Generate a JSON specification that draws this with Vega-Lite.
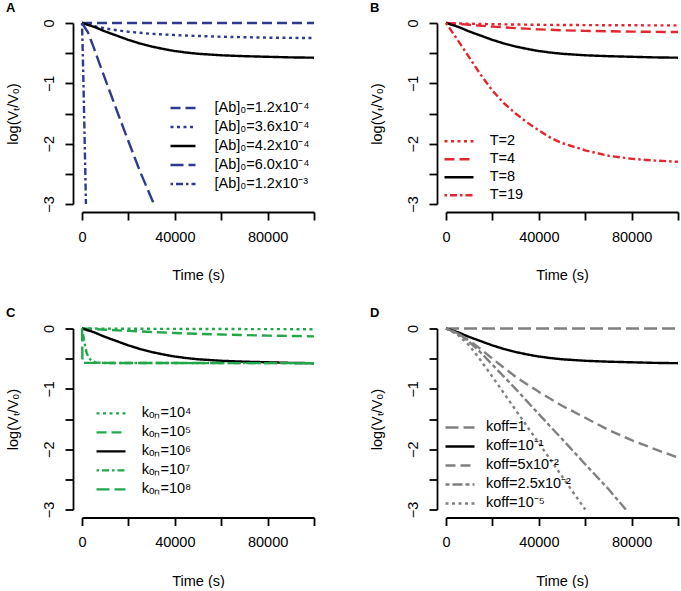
{
  "$schema": "https://vega.github.io/schema/vega-lite/v6.json",
  "background": "white",
  "padding": {"left": 5, "top": 1, "right": 0, "bottom": 0},
  "columns": 2,
  "spacing": {"row": 124.5, "column": 132},
  "bounds": "flush",
  "resolve": {"scale": {"color": "independent", "strokeDash": "independent", "strokeWidth": "independent"}},
  "config": {
    "view": {"stroke": null},
    "font": "Liberation Sans",
    "axis": {"domainColor": "black", "domainWidth": 1.8, "tickColor": "black", "tickWidth": 1.8, "tickSize": 8, "labelFont": "Liberation Sans", "labelFontSize": 14.5, "labelColor": "black", "titleFont": "Liberation Sans", "titleFontSize": 14.5, "titleFontWeight": "normal", "titleColor": "black", "grid": false, "labelFlush": false, "labelOverlap": false},
    "axisX": {"offset": 8, "labelPadding": 10, "titlePadding": 25},
    "axisY": {"offset": 9, "labelAngle": 270, "labelAlign": "center", "labelBaseline": "bottom", "labelPadding": 9, "titlePadding": 21},
    "legend": {"orient": "none", "symbolType": "stroke", "symbolStrokeWidth": 2.4, "labelFont": "Liberation Sans", "labelFontSize": 14.5, "labelColor": "black", "padding": 0, "labelLimit": 400, "rowPadding": 0},
    "title": {"anchor": "start", "frame": "group", "fontSize": 13, "fontWeight": "bold", "font": "Liberation Sans", "color": "black", "offset": 4, "dx": -76}
  },
  "concat": [
    {
      "width": 232, "height": 181,
      "title": {"text": "A"},
      "data": {"values": [
        {"t": 0, "v": 0, "ab": "[Ab]₀=1.2x10⁻⁴"}, {"t": 20000, "v": 0, "ab": "[Ab]₀=1.2x10⁻⁴"}, {"t": 40000, "v": 0, "ab": "[Ab]₀=1.2x10⁻⁴"}, {"t": 60000, "v": 0, "ab": "[Ab]₀=1.2x10⁻⁴"}, {"t": 80000, "v": 0, "ab": "[Ab]₀=1.2x10⁻⁴"}, {"t": 100000, "v": 0, "ab": "[Ab]₀=1.2x10⁻⁴"},
        {"t": 0, "v": 0, "ab": "[Ab]₀=3.6x10⁻⁴"}, {"t": 5000, "v": -0.05, "ab": "[Ab]₀=3.6x10⁻⁴"}, {"t": 10000, "v": -0.09, "ab": "[Ab]₀=3.6x10⁻⁴"}, {"t": 15000, "v": -0.12, "ab": "[Ab]₀=3.6x10⁻⁴"}, {"t": 20000, "v": -0.145, "ab": "[Ab]₀=3.6x10⁻⁴"}, {"t": 30000, "v": -0.18, "ab": "[Ab]₀=3.6x10⁻⁴"}, {"t": 40000, "v": -0.2, "ab": "[Ab]₀=3.6x10⁻⁴"}, {"t": 50000, "v": -0.215, "ab": "[Ab]₀=3.6x10⁻⁴"}, {"t": 60000, "v": -0.228, "ab": "[Ab]₀=3.6x10⁻⁴"}, {"t": 80000, "v": -0.243, "ab": "[Ab]₀=3.6x10⁻⁴"}, {"t": 100000, "v": -0.25, "ab": "[Ab]₀=3.6x10⁻⁴"},
        {"t": 0, "v": 0, "ab": "[Ab]₀=4.2x10⁻⁴"}, {"t": 5000, "v": -0.06, "ab": "[Ab]₀=4.2x10⁻⁴"}, {"t": 10000, "v": -0.14, "ab": "[Ab]₀=4.2x10⁻⁴"}, {"t": 15000, "v": -0.21, "ab": "[Ab]₀=4.2x10⁻⁴"}, {"t": 20000, "v": -0.28, "ab": "[Ab]₀=4.2x10⁻⁴"}, {"t": 25000, "v": -0.34, "ab": "[Ab]₀=4.2x10⁻⁴"}, {"t": 30000, "v": -0.39, "ab": "[Ab]₀=4.2x10⁻⁴"}, {"t": 35000, "v": -0.43, "ab": "[Ab]₀=4.2x10⁻⁴"}, {"t": 40000, "v": -0.465, "ab": "[Ab]₀=4.2x10⁻⁴"}, {"t": 45000, "v": -0.49, "ab": "[Ab]₀=4.2x10⁻⁴"}, {"t": 50000, "v": -0.51, "ab": "[Ab]₀=4.2x10⁻⁴"}, {"t": 60000, "v": -0.535, "ab": "[Ab]₀=4.2x10⁻⁴"}, {"t": 70000, "v": -0.55, "ab": "[Ab]₀=4.2x10⁻⁴"}, {"t": 80000, "v": -0.56, "ab": "[Ab]₀=4.2x10⁻⁴"}, {"t": 90000, "v": -0.57, "ab": "[Ab]₀=4.2x10⁻⁴"}, {"t": 100000, "v": -0.575, "ab": "[Ab]₀=4.2x10⁻⁴"},
        {"t": 0, "v": 0, "ab": "[Ab]₀=6.0x10⁻⁴"}, {"t": 2500, "v": -0.15, "ab": "[Ab]₀=6.0x10⁻⁴"}, {"t": 5000, "v": -0.4, "ab": "[Ab]₀=6.0x10⁻⁴"}, {"t": 7500, "v": -0.67, "ab": "[Ab]₀=6.0x10⁻⁴"}, {"t": 10000, "v": -0.93, "ab": "[Ab]₀=6.0x10⁻⁴"}, {"t": 15000, "v": -1.45, "ab": "[Ab]₀=6.0x10⁻⁴"}, {"t": 20000, "v": -1.96, "ab": "[Ab]₀=6.0x10⁻⁴"}, {"t": 25000, "v": -2.46, "ab": "[Ab]₀=6.0x10⁻⁴"}, {"t": 31000, "v": -3.0, "ab": "[Ab]₀=6.0x10⁻⁴"},
        {"t": 0, "v": 0, "ab": "[Ab]₀=1.2x10⁻³"}, {"t": 400, "v": -0.6, "ab": "[Ab]₀=1.2x10⁻³"}, {"t": 800, "v": -1.3, "ab": "[Ab]₀=1.2x10⁻³"}, {"t": 1200, "v": -2.05, "ab": "[Ab]₀=1.2x10⁻³"}, {"t": 1700, "v": -3.0, "ab": "[Ab]₀=1.2x10⁻³"}
      ]},
      "mark": {"type": "line", "strokeWidth": 2.4, "strokeJoin": "round"},
      "encoding": {
        "x": {"field": "t", "type": "quantitative", "title": "Time (s)", "scale": {"domain": [0, 100000], "nice": false, "zero": false}, "axis": {"values": [0, 20000, 40000, 60000, 80000, 100000], "labelExpr": "datum.value % 40000 === 0 ? format(datum.value, 'd') : ''"}},
        "y": {"field": "v", "type": "quantitative", "title": "log(Vₜ/V₀)", "scale": {"domain": [-3, 0], "nice": false, "zero": false}, "axis": {"values": [0, -0.5, -1, -1.5, -2, -2.5, -3], "labelExpr": "datum.value % 1 === 0 ? format(datum.value, 'd') : ''"}},
        "color": {"field": "ab", "type": "nominal", "scale": {"domain": ["[Ab]₀=1.2x10⁻⁴", "[Ab]₀=3.6x10⁻⁴", "[Ab]₀=4.2x10⁻⁴", "[Ab]₀=6.0x10⁻⁴", "[Ab]₀=1.2x10⁻³"], "range": ["#2E3A8F", "#2E3A8F", "#000000", "#2E3A8F", "#2E3A8F"]}, "legend": {"title": null, "legendX": 87, "legendY": 76, "symbolSize": 625, "labelOffset": 17.5, "clipHeight": 18.1}},
        "strokeDash": {"field": "ab", "type": "nominal", "scale": {"domain": ["[Ab]₀=1.2x10⁻⁴", "[Ab]₀=3.6x10⁻⁴", "[Ab]₀=4.2x10⁻⁴", "[Ab]₀=6.0x10⁻⁴", "[Ab]₀=1.2x10⁻³"], "range": [[10, 5], [3, 3.5], [1, 0], [13, 5], [2.5, 3, 7, 3]]}, "legend": {"title": null, "legendX": 87, "legendY": 76, "symbolSize": 625, "labelOffset": 17.5, "clipHeight": 18.1}}
      }
    },
    {
      "width": 232, "height": 181,
      "title": {"text": "B"},
      "data": {"values": [
        {"t": 0, "v": 0, "T": "T=2"}, {"t": 10000, "v": -0.012, "T": "T=2"}, {"t": 20000, "v": -0.02, "T": "T=2"}, {"t": 40000, "v": -0.03, "T": "T=2"}, {"t": 60000, "v": -0.035, "T": "T=2"}, {"t": 80000, "v": -0.038, "T": "T=2"}, {"t": 100000, "v": -0.04, "T": "T=2"},
        {"t": 0, "v": 0, "T": "T=4"}, {"t": 10000, "v": -0.03, "T": "T=4"}, {"t": 20000, "v": -0.06, "T": "T=4"}, {"t": 30000, "v": -0.085, "T": "T=4"}, {"t": 40000, "v": -0.105, "T": "T=4"}, {"t": 50000, "v": -0.12, "T": "T=4"}, {"t": 60000, "v": -0.13, "T": "T=4"}, {"t": 80000, "v": -0.143, "T": "T=4"}, {"t": 100000, "v": -0.15, "T": "T=4"},
        {"t": 0, "v": 0, "T": "T=8"}, {"t": 5000, "v": -0.06, "T": "T=8"}, {"t": 10000, "v": -0.14, "T": "T=8"}, {"t": 15000, "v": -0.21, "T": "T=8"}, {"t": 20000, "v": -0.28, "T": "T=8"}, {"t": 25000, "v": -0.34, "T": "T=8"}, {"t": 30000, "v": -0.39, "T": "T=8"}, {"t": 35000, "v": -0.43, "T": "T=8"}, {"t": 40000, "v": -0.465, "T": "T=8"}, {"t": 45000, "v": -0.49, "T": "T=8"}, {"t": 50000, "v": -0.51, "T": "T=8"}, {"t": 60000, "v": -0.535, "T": "T=8"}, {"t": 70000, "v": -0.55, "T": "T=8"}, {"t": 80000, "v": -0.56, "T": "T=8"}, {"t": 90000, "v": -0.57, "T": "T=8"}, {"t": 100000, "v": -0.575, "T": "T=8"},
        {"t": 0, "v": 0, "T": "T=19"}, {"t": 5000, "v": -0.28, "T": "T=19"}, {"t": 10000, "v": -0.57, "T": "T=19"}, {"t": 15000, "v": -0.86, "T": "T=19"}, {"t": 20000, "v": -1.12, "T": "T=19"}, {"t": 25000, "v": -1.33, "T": "T=19"}, {"t": 30000, "v": -1.5, "T": "T=19"}, {"t": 35000, "v": -1.65, "T": "T=19"}, {"t": 40000, "v": -1.78, "T": "T=19"}, {"t": 45000, "v": -1.9, "T": "T=19"}, {"t": 50000, "v": -1.99, "T": "T=19"}, {"t": 60000, "v": -2.11, "T": "T=19"}, {"t": 70000, "v": -2.2, "T": "T=19"}, {"t": 80000, "v": -2.25, "T": "T=19"}, {"t": 90000, "v": -2.28, "T": "T=19"}, {"t": 100000, "v": -2.3, "T": "T=19"}
      ]},
      "mark": {"type": "line", "strokeWidth": 2.4, "strokeJoin": "round"},
      "encoding": {
        "x": {"field": "t", "type": "quantitative", "title": "Time (s)", "scale": {"domain": [0, 100000], "nice": false, "zero": false}, "axis": {"values": [0, 20000, 40000, 60000, 80000, 100000], "labelExpr": "datum.value % 40000 === 0 ? format(datum.value, 'd') : ''"}},
        "y": {"field": "v", "type": "quantitative", "title": "log(Vₜ/V₀)", "scale": {"domain": [-3, 0], "nice": false, "zero": false}, "axis": {"values": [0, -0.5, -1, -1.5, -2, -2.5, -3], "labelExpr": "datum.value % 1 === 0 ? format(datum.value, 'd') : ''"}},
        "color": {"field": "T", "type": "nominal", "scale": {"domain": ["T=2", "T=4", "T=8", "T=19"], "range": ["#E5262E", "#E5262E", "#000000", "#E5262E"]}, "legend": {"title": null, "legendX": -3, "legendY": 109.3, "symbolSize": 841, "labelOffset": 14.7, "clipHeight": 17.8}},
        "strokeDash": {"field": "T", "type": "nominal", "scale": {"domain": ["T=2", "T=4", "T=8", "T=19"], "range": [[3, 3.5], [10, 5], [1, 0], [2.5, 3, 7, 3]]}, "legend": {"title": null, "legendX": -3, "legendY": 109.3, "symbolSize": 841, "labelOffset": 14.7, "clipHeight": 17.8}}
      }
    },
    {
      "width": 232, "height": 181,
      "title": {"text": "C"},
      "data": {"values": [
        {"t": 0, "v": 0, "kon": "kₒₙ=10⁴"}, {"t": 20000, "v": -0.004, "kon": "kₒₙ=10⁴"}, {"t": 50000, "v": -0.008, "kon": "kₒₙ=10⁴"}, {"t": 100000, "v": -0.012, "kon": "kₒₙ=10⁴"},
        {"t": 0, "v": 0, "kon": "kₒₙ=10⁵"}, {"t": 10000, "v": -0.02, "kon": "kₒₙ=10⁵"}, {"t": 20000, "v": -0.04, "kon": "kₒₙ=10⁵"}, {"t": 30000, "v": -0.058, "kon": "kₒₙ=10⁵"}, {"t": 40000, "v": -0.075, "kon": "kₒₙ=10⁵"}, {"t": 50000, "v": -0.088, "kon": "kₒₙ=10⁵"}, {"t": 60000, "v": -0.1, "kon": "kₒₙ=10⁵"}, {"t": 80000, "v": -0.118, "kon": "kₒₙ=10⁵"}, {"t": 100000, "v": -0.13, "kon": "kₒₙ=10⁵"},
        {"t": 0, "v": 0, "kon": "kₒₙ=10⁶"}, {"t": 5000, "v": -0.06, "kon": "kₒₙ=10⁶"}, {"t": 10000, "v": -0.14, "kon": "kₒₙ=10⁶"}, {"t": 15000, "v": -0.21, "kon": "kₒₙ=10⁶"}, {"t": 20000, "v": -0.28, "kon": "kₒₙ=10⁶"}, {"t": 25000, "v": -0.34, "kon": "kₒₙ=10⁶"}, {"t": 30000, "v": -0.39, "kon": "kₒₙ=10⁶"}, {"t": 35000, "v": -0.43, "kon": "kₒₙ=10⁶"}, {"t": 40000, "v": -0.465, "kon": "kₒₙ=10⁶"}, {"t": 45000, "v": -0.49, "kon": "kₒₙ=10⁶"}, {"t": 50000, "v": -0.51, "kon": "kₒₙ=10⁶"}, {"t": 60000, "v": -0.535, "kon": "kₒₙ=10⁶"}, {"t": 70000, "v": -0.55, "kon": "kₒₙ=10⁶"}, {"t": 80000, "v": -0.56, "kon": "kₒₙ=10⁶"}, {"t": 90000, "v": -0.57, "kon": "kₒₙ=10⁶"}, {"t": 100000, "v": -0.575, "kon": "kₒₙ=10⁶"},
        {"t": 0, "v": 0, "kon": "kₒₙ=10⁷"}, {"t": 700, "v": -0.15, "kon": "kₒₙ=10⁷"}, {"t": 1400, "v": -0.3, "kon": "kₒₙ=10⁷"}, {"t": 2000, "v": -0.4, "kon": "kₒₙ=10⁷"}, {"t": 2600, "v": -0.46, "kon": "kₒₙ=10⁷"}, {"t": 3500, "v": -0.51, "kon": "kₒₙ=10⁷"}, {"t": 4500, "v": -0.54, "kon": "kₒₙ=10⁷"}, {"t": 6000, "v": -0.565, "kon": "kₒₙ=10⁷"}, {"t": 10000, "v": -0.572, "kon": "kₒₙ=10⁷"}, {"t": 100000, "v": -0.575, "kon": "kₒₙ=10⁷"},
        {"t": 0, "v": 0, "kon": "kₒₙ=10⁸"}, {"t": 200, "v": -0.57, "kon": "kₒₙ=10⁸"}, {"t": 100000, "v": -0.575, "kon": "kₒₙ=10⁸"}
      ]},
      "mark": {"type": "line", "strokeJoin": "round"},
      "encoding": {
        "x": {"field": "t", "type": "quantitative", "title": "Time (s)", "scale": {"domain": [0, 100000], "nice": false, "zero": false}, "axis": {"values": [0, 20000, 40000, 60000, 80000, 100000], "labelExpr": "datum.value % 40000 === 0 ? format(datum.value, 'd') : ''"}},
        "y": {"field": "v", "type": "quantitative", "title": "log(Vₜ/V₀)", "scale": {"domain": [-3, 0], "nice": false, "zero": false}, "axis": {"values": [0, -0.5, -1, -1.5, -2, -2.5, -3], "labelExpr": "datum.value % 1 === 0 ? format(datum.value, 'd') : ''"}},
        "color": {"field": "kon", "type": "nominal", "scale": {"domain": ["kₒₙ=10⁴", "kₒₙ=10⁵", "kₒₙ=10⁶", "kₒₙ=10⁷", "kₒₙ=10⁸"], "range": ["#22A84A", "#22A84A", "#000000", "#22A84A", "#22A84A"]}, "legend": {"title": null, "legendX": 13, "legendY": 75.8, "symbolSize": 841, "labelOffset": 14.7, "clipHeight": 18.1}},
        "strokeDash": {"field": "kon", "type": "nominal", "scale": {"domain": ["kₒₙ=10⁴", "kₒₙ=10⁵", "kₒₙ=10⁶", "kₒₙ=10⁷", "kₒₙ=10⁸"], "range": [[3, 3.5], [10, 5], [1, 0], [2.5, 3, 7, 3], [13, 5]]}, "legend": {"title": null, "legendX": 13, "legendY": 75.8, "symbolSize": 841, "labelOffset": 14.7, "clipHeight": 18.1}},
        "strokeWidth": {"field": "kon", "type": "nominal", "scale": {"domain": ["kₒₙ=10⁴", "kₒₙ=10⁵", "kₒₙ=10⁶", "kₒₙ=10⁷", "kₒₙ=10⁸"], "range": [2.4, 2.4, 1.7, 2.4, 2.4]}, "legend": {"title": null, "legendX": 13, "legendY": 75.8, "symbolSize": 841, "labelOffset": 14.7, "clipHeight": 18.1}}
      }
    },
    {
      "width": 232, "height": 181,
      "title": {"text": "D"},
      "data": {"values": [
        {"t": 0, "v": 0, "koff": "koff=1"}, {"t": 50000, "v": 0, "koff": "koff=1"}, {"t": 100000, "v": 0, "koff": "koff=1"},
        {"t": 0, "v": 0, "koff": "koff=10⁻¹"}, {"t": 5000, "v": -0.06, "koff": "koff=10⁻¹"}, {"t": 10000, "v": -0.14, "koff": "koff=10⁻¹"}, {"t": 15000, "v": -0.21, "koff": "koff=10⁻¹"}, {"t": 20000, "v": -0.28, "koff": "koff=10⁻¹"}, {"t": 25000, "v": -0.34, "koff": "koff=10⁻¹"}, {"t": 30000, "v": -0.39, "koff": "koff=10⁻¹"}, {"t": 35000, "v": -0.43, "koff": "koff=10⁻¹"}, {"t": 40000, "v": -0.465, "koff": "koff=10⁻¹"}, {"t": 45000, "v": -0.49, "koff": "koff=10⁻¹"}, {"t": 50000, "v": -0.51, "koff": "koff=10⁻¹"}, {"t": 60000, "v": -0.535, "koff": "koff=10⁻¹"}, {"t": 70000, "v": -0.55, "koff": "koff=10⁻¹"}, {"t": 80000, "v": -0.56, "koff": "koff=10⁻¹"}, {"t": 90000, "v": -0.57, "koff": "koff=10⁻¹"}, {"t": 100000, "v": -0.575, "koff": "koff=10⁻¹"},
        {"t": 0, "v": 0, "koff": "koff=5x10⁻²"}, {"t": 5000, "v": -0.08, "koff": "koff=5x10⁻²"}, {"t": 10000, "v": -0.2, "koff": "koff=5x10⁻²"}, {"t": 15000, "v": -0.34, "koff": "koff=5x10⁻²"}, {"t": 20000, "v": -0.5, "koff": "koff=5x10⁻²"}, {"t": 25000, "v": -0.65, "koff": "koff=5x10⁻²"}, {"t": 30000, "v": -0.8, "koff": "koff=5x10⁻²"}, {"t": 40000, "v": -1.05, "koff": "koff=5x10⁻²"}, {"t": 50000, "v": -1.28, "koff": "koff=5x10⁻²"}, {"t": 60000, "v": -1.48, "koff": "koff=5x10⁻²"}, {"t": 70000, "v": -1.68, "koff": "koff=5x10⁻²"}, {"t": 80000, "v": -1.85, "koff": "koff=5x10⁻²"}, {"t": 90000, "v": -2.0, "koff": "koff=5x10⁻²"}, {"t": 100000, "v": -2.14, "koff": "koff=5x10⁻²"},
        {"t": 0, "v": 0, "koff": "koff=2.5x10⁻²"}, {"t": 5000, "v": -0.08, "koff": "koff=2.5x10⁻²"}, {"t": 10000, "v": -0.22, "koff": "koff=2.5x10⁻²"}, {"t": 15000, "v": -0.4, "koff": "koff=2.5x10⁻²"}, {"t": 20000, "v": -0.6, "koff": "koff=2.5x10⁻²"}, {"t": 30000, "v": -1.0, "koff": "koff=2.5x10⁻²"}, {"t": 40000, "v": -1.42, "koff": "koff=2.5x10⁻²"}, {"t": 50000, "v": -1.83, "koff": "koff=2.5x10⁻²"}, {"t": 60000, "v": -2.25, "koff": "koff=2.5x10⁻²"}, {"t": 70000, "v": -2.66, "koff": "koff=2.5x10⁻²"}, {"t": 77500, "v": -3.0, "koff": "koff=2.5x10⁻²"},
        {"t": 0, "v": 0, "koff": "koff=10⁻⁵"}, {"t": 5000, "v": -0.1, "koff": "koff=10⁻⁵"}, {"t": 10000, "v": -0.28, "koff": "koff=10⁻⁵"}, {"t": 15000, "v": -0.53, "koff": "koff=10⁻⁵"}, {"t": 20000, "v": -0.8, "koff": "koff=10⁻⁵"}, {"t": 30000, "v": -1.35, "koff": "koff=10⁻⁵"}, {"t": 40000, "v": -1.9, "koff": "koff=10⁻⁵"}, {"t": 50000, "v": -2.45, "koff": "koff=10⁻⁵"}, {"t": 60000, "v": -3.0, "koff": "koff=10⁻⁵"}
      ]},
      "mark": {"type": "line", "strokeWidth": 2.4, "strokeJoin": "round"},
      "encoding": {
        "x": {"field": "t", "type": "quantitative", "title": "Time (s)", "scale": {"domain": [0, 100000], "nice": false, "zero": false}, "axis": {"values": [0, 20000, 40000, 60000, 80000, 100000], "labelExpr": "datum.value % 40000 === 0 ? format(datum.value, 'd') : ''"}},
        "y": {"field": "v", "type": "quantitative", "title": "log(Vₜ/V₀)", "scale": {"domain": [-3, 0], "nice": false, "zero": false}, "axis": {"values": [0, -0.5, -1, -1.5, -2, -2.5, -3], "labelExpr": "datum.value % 1 === 0 ? format(datum.value, 'd') : ''"}},
        "color": {"field": "koff", "type": "nominal", "scale": {"domain": ["koff=1", "koff=10⁻¹", "koff=5x10⁻²", "koff=2.5x10⁻²", "koff=10⁻⁵"], "range": ["#808080", "#000000", "#808080", "#808080", "#808080"]}, "legend": {"title": null, "legendX": -2, "legendY": 89.6, "symbolSize": 841, "labelOffset": 10, "clipHeight": 18.75}},
        "strokeDash": {"field": "koff", "type": "nominal", "scale": {"domain": ["koff=1", "koff=10⁻¹", "koff=5x10⁻²", "koff=2.5x10⁻²", "koff=10⁻⁵"], "range": [[13, 5], [1, 0], [10, 5], [4, 3, 10, 3], [3, 3.5]]}, "legend": {"title": null, "legendX": -2, "legendY": 89.6, "symbolSize": 841, "labelOffset": 10, "clipHeight": 18.75}}
      }
    }
  ]
}
